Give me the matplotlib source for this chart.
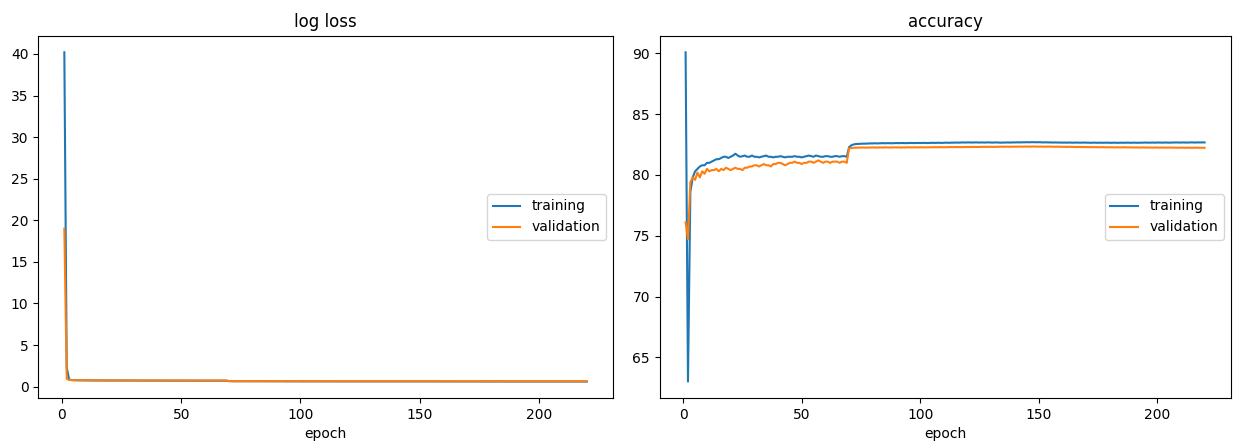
import matplotlib
matplotlib.use("Agg")
import matplotlib.pyplot as plt

# epochs 1..220
epochs = list(range(1, 221))

loss_train = [
    40.2, 2.3, 0.86, 0.79, 0.77, 0.76, 0.76, 0.75, 0.75, 0.75,
    0.75, 0.74, 0.74, 0.74, 0.74, 0.74, 0.74, 0.73, 0.74, 0.73,
    0.73, 0.73, 0.73, 0.73, 0.73, 0.73, 0.73, 0.73, 0.73, 0.73,
    0.73, 0.72, 0.73, 0.73, 0.72, 0.73, 0.72, 0.72, 0.73, 0.72,
    0.72, 0.72, 0.72, 0.72, 0.72, 0.72, 0.72, 0.72, 0.72, 0.72,
    0.72, 0.72, 0.71, 0.72, 0.72, 0.71, 0.72, 0.71, 0.71, 0.72,
    0.71, 0.71, 0.71, 0.71, 0.71, 0.71, 0.71, 0.71, 0.71, 0.66,
    0.65, 0.65, 0.65, 0.64, 0.64, 0.64, 0.64, 0.64, 0.64, 0.64,
    0.64, 0.64, 0.64, 0.64, 0.64, 0.64, 0.64, 0.64, 0.64, 0.64,
    0.64, 0.64, 0.64, 0.63, 0.64, 0.64, 0.63, 0.64, 0.63, 0.63,
    0.63, 0.63, 0.63, 0.63, 0.63, 0.63, 0.63, 0.63, 0.63, 0.63,
    0.63, 0.63, 0.63, 0.63, 0.63, 0.63, 0.63, 0.63, 0.63, 0.63,
    0.63, 0.63, 0.63, 0.63, 0.63, 0.63, 0.62, 0.63, 0.63, 0.62,
    0.63, 0.62, 0.62, 0.63, 0.62, 0.62, 0.62, 0.62, 0.62, 0.62,
    0.62, 0.62, 0.62, 0.62, 0.62, 0.62, 0.62, 0.62, 0.62, 0.62,
    0.62, 0.62, 0.62, 0.62, 0.62, 0.62, 0.62, 0.62, 0.62, 0.62,
    0.62, 0.62, 0.62, 0.62, 0.62, 0.62, 0.62, 0.62, 0.62, 0.62,
    0.62, 0.62, 0.62, 0.62, 0.62, 0.61, 0.62, 0.62, 0.61, 0.62,
    0.61, 0.62, 0.61, 0.61, 0.62, 0.61, 0.61, 0.61, 0.61, 0.61,
    0.61, 0.61, 0.61, 0.61, 0.61, 0.61, 0.61, 0.61, 0.61, 0.61,
    0.61, 0.61, 0.61, 0.61, 0.61, 0.61, 0.61, 0.61, 0.61, 0.61,
    0.61, 0.61, 0.61, 0.61, 0.61, 0.61, 0.61, 0.61, 0.61, 0.61,
]

loss_val = [
    19.0, 0.95, 0.81, 0.79, 0.78, 0.78, 0.77, 0.77, 0.77, 0.76,
    0.77, 0.76, 0.76, 0.76, 0.76, 0.76, 0.76, 0.75, 0.76, 0.75,
    0.75, 0.75, 0.75, 0.75, 0.76, 0.75, 0.75, 0.75, 0.75, 0.75,
    0.75, 0.75, 0.75, 0.74, 0.75, 0.75, 0.75, 0.74, 0.74, 0.74,
    0.74, 0.74, 0.75, 0.74, 0.74, 0.74, 0.74, 0.74, 0.74, 0.74,
    0.74, 0.74, 0.74, 0.74, 0.74, 0.74, 0.73, 0.74, 0.74, 0.74,
    0.73, 0.74, 0.73, 0.73, 0.74, 0.73, 0.73, 0.73, 0.74, 0.67,
    0.66, 0.66, 0.66, 0.66, 0.66, 0.66, 0.66, 0.66, 0.66, 0.66,
    0.66, 0.66, 0.66, 0.66, 0.66, 0.66, 0.66, 0.66, 0.66, 0.66,
    0.66, 0.66, 0.66, 0.66, 0.66, 0.66, 0.66, 0.66, 0.66, 0.66,
    0.66, 0.66, 0.66, 0.66, 0.65, 0.66, 0.66, 0.65, 0.66, 0.65,
    0.65, 0.65, 0.65, 0.65, 0.65, 0.65, 0.65, 0.65, 0.65, 0.65,
    0.65, 0.65, 0.65, 0.65, 0.65, 0.65, 0.65, 0.65, 0.65, 0.65,
    0.65, 0.65, 0.65, 0.65, 0.65, 0.65, 0.65, 0.65, 0.65, 0.65,
    0.65, 0.65, 0.65, 0.65, 0.65, 0.65, 0.65, 0.65, 0.65, 0.65,
    0.65, 0.65, 0.65, 0.65, 0.65, 0.65, 0.65, 0.65, 0.65, 0.65,
    0.65, 0.65, 0.65, 0.65, 0.65, 0.65, 0.65, 0.65, 0.65, 0.65,
    0.65, 0.65, 0.65, 0.65, 0.65, 0.65, 0.65, 0.65, 0.65, 0.65,
    0.65, 0.65, 0.65, 0.65, 0.65, 0.65, 0.65, 0.65, 0.65, 0.65,
    0.65, 0.65, 0.65, 0.65, 0.65, 0.65, 0.65, 0.65, 0.65, 0.65,
    0.65, 0.65, 0.65, 0.65, 0.65, 0.65, 0.65, 0.65, 0.65, 0.65,
    0.65, 0.65, 0.65, 0.65, 0.65, 0.65, 0.65, 0.65, 0.65, 0.65,
]

acc_train = [
    90.1, 63.0, 78.6, 79.8, 80.3, 80.5, 80.7, 80.8, 80.8, 81.0,
    81.0, 81.1, 81.2, 81.3, 81.3, 81.4, 81.5, 81.5, 81.4, 81.5,
    81.6, 81.75, 81.6, 81.5, 81.55, 81.6, 81.5, 81.5, 81.6, 81.5,
    81.5, 81.45, 81.5, 81.55, 81.6, 81.5, 81.5, 81.45, 81.5, 81.5,
    81.55, 81.5, 81.45, 81.5, 81.5, 81.5, 81.55, 81.5, 81.5, 81.45,
    81.5, 81.55, 81.6, 81.55, 81.5, 81.6, 81.55, 81.5, 81.5, 81.55,
    81.55, 81.5, 81.5, 81.55, 81.55, 81.5, 81.55, 81.55, 81.5, 82.3,
    82.45, 82.52, 82.55, 82.56, 82.57, 82.58, 82.58, 82.59, 82.60, 82.60,
    82.61, 82.60, 82.61, 82.62, 82.61, 82.62, 82.62, 82.61, 82.62, 82.63,
    82.62, 82.63, 82.63, 82.62, 82.63, 82.64, 82.63, 82.63, 82.64, 82.63,
    82.64, 82.64, 82.63, 82.64, 82.65, 82.64, 82.65, 82.65, 82.64, 82.65,
    82.66, 82.65, 82.66, 82.66, 82.67, 82.66, 82.67, 82.68, 82.67, 82.68,
    82.68, 82.67, 82.68, 82.68, 82.67, 82.68, 82.67, 82.68, 82.68, 82.67,
    82.67, 82.68, 82.67, 82.66, 82.67, 82.67, 82.68, 82.67, 82.68, 82.68,
    82.69, 82.68, 82.69, 82.69, 82.70, 82.69, 82.70, 82.70, 82.69, 82.70,
    82.69, 82.68, 82.69, 82.68, 82.68, 82.67, 82.68, 82.67, 82.67, 82.66,
    82.67, 82.66, 82.67, 82.66, 82.66, 82.67, 82.66, 82.66, 82.67, 82.66,
    82.66, 82.65, 82.66, 82.66, 82.65, 82.66, 82.65, 82.66, 82.66, 82.65,
    82.65, 82.66, 82.65, 82.65, 82.66, 82.65, 82.66, 82.66, 82.65, 82.66,
    82.66, 82.65, 82.66, 82.66, 82.67, 82.66, 82.66, 82.67, 82.66, 82.67,
    82.67, 82.66, 82.67, 82.67, 82.66, 82.67, 82.67, 82.68, 82.67, 82.67,
    82.68, 82.67, 82.67, 82.68, 82.68, 82.67, 82.68, 82.68, 82.68, 82.68,
]

acc_val = [
    76.1, 74.7, 79.4, 79.8, 79.6, 80.2, 79.8, 80.3, 80.1, 80.5,
    80.3, 80.4, 80.4, 80.5, 80.3, 80.5, 80.4, 80.6, 80.5, 80.4,
    80.5, 80.6, 80.5, 80.5, 80.4, 80.6, 80.6, 80.7, 80.7, 80.8,
    80.8, 80.7, 80.8, 80.9, 80.8, 80.8, 80.7, 80.9, 80.9, 81.0,
    81.0, 80.9, 80.8, 80.9, 81.0, 81.0, 81.1, 81.0, 81.0, 80.9,
    81.0, 81.0, 81.1, 81.1, 81.0, 81.1, 81.2, 81.1, 81.0, 81.1,
    81.1, 81.0, 81.1, 81.1, 81.1, 81.0, 81.1, 81.1, 81.0, 82.2,
    82.22, 82.24, 82.25, 82.25, 82.26, 82.26, 82.25, 82.26, 82.26, 82.27,
    82.26, 82.26, 82.27, 82.26, 82.27, 82.27, 82.26, 82.27, 82.27, 82.27,
    82.27, 82.26, 82.27, 82.27, 82.28, 82.27, 82.27, 82.28, 82.27, 82.28,
    82.28, 82.27, 82.28, 82.28, 82.28, 82.29, 82.28, 82.29, 82.29, 82.28,
    82.29, 82.29, 82.30, 82.29, 82.30, 82.30, 82.29, 82.30, 82.30, 82.31,
    82.30, 82.31, 82.31, 82.30, 82.31, 82.31, 82.32, 82.31, 82.32, 82.32,
    82.31, 82.32, 82.32, 82.33, 82.32, 82.33, 82.33, 82.32, 82.33, 82.33,
    82.33, 82.34, 82.33, 82.34, 82.34, 82.33, 82.34, 82.34, 82.34, 82.33,
    82.34, 82.33, 82.33, 82.34, 82.33, 82.33, 82.32, 82.33, 82.32, 82.32,
    82.32, 82.31, 82.32, 82.31, 82.31, 82.30, 82.31, 82.30, 82.30, 82.30,
    82.29, 82.30, 82.29, 82.29, 82.29, 82.28, 82.29, 82.28, 82.28, 82.28,
    82.28, 82.27, 82.28, 82.27, 82.27, 82.28, 82.27, 82.27, 82.27, 82.26,
    82.27, 82.26, 82.26, 82.27, 82.26, 82.26, 82.26, 82.25, 82.26, 82.26,
    82.25, 82.26, 82.25, 82.25, 82.26, 82.25, 82.25, 82.25, 82.24, 82.25,
    82.25, 82.24, 82.25, 82.24, 82.24, 82.25, 82.24, 82.24, 82.24, 82.24,
]

fig = plt.figure(figsize=(12.33, 4.42), dpi=100)
ax1 = fig.add_axes([0.031, 0.0995, 0.466, 0.8195])
ax2 = fig.add_axes([0.535, 0.0995, 0.463, 0.8195])

ax1.plot(epochs, loss_train, label="training")
ax1.plot(epochs, loss_val, label="validation")
ax1.set_title("log loss")
ax1.set_xlabel("epoch")
ax1.legend(loc="center right")

ax2.plot(epochs, acc_train, label="training")
ax2.plot(epochs, acc_val, label="validation")
ax2.set_title("accuracy")
ax2.set_xlabel("epoch")
ax2.legend(loc="center right")

fig.savefig("out.png", dpi=100)
